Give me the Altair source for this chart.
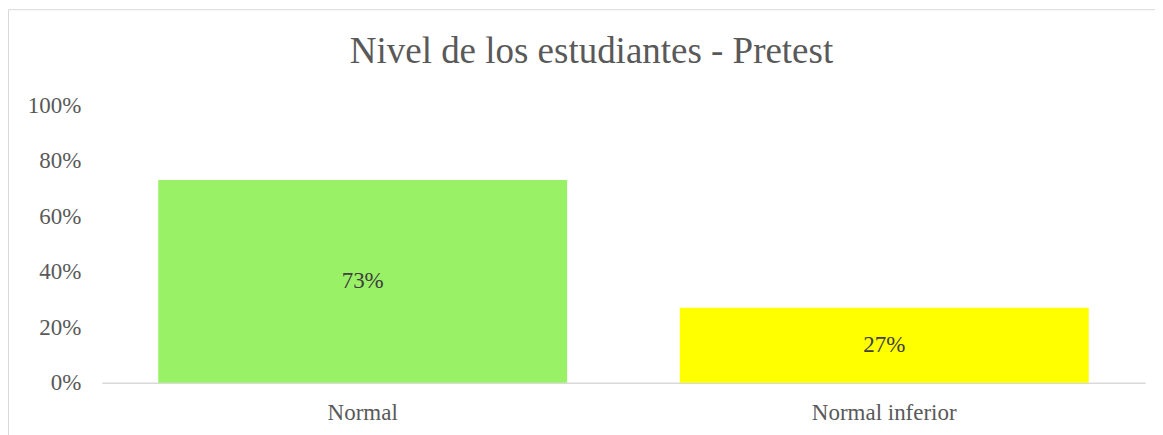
import altair as alt
import pandas as pd

title_text = "Nivel de los estudiantes - Pretest"
categories = ["Normal", "Normal inferior"]
values = [0.73, 0.27]
colors = ["#99F266", "#FFFF00"]
labels = ["73%", "27%"]

df = pd.DataFrame({"cat": categories, "val": values, "color": colors, "label": labels})

FONT = "Liberation Serif"

base = alt.Chart(df)

bars = base.mark_bar(width=alt.RelativeBandSize(0.784)).encode(
    x=alt.X("cat:N", sort=categories, title=None,
            scale=alt.Scale(paddingInner=0, paddingOuter=0),
            axis=alt.Axis(labelAngle=0, ticks=False, tickSize=0, domainColor="#D9D9D9",
                          domainWidth=1.5, labelFont=FONT, labelFontSize=23, labelColor="#595959",
                          labelBaseline="alphabetic", labelPadding=37, grid=False)),
    y=alt.Y("val:Q", title=None,
            scale=alt.Scale(domain=[0, 1]),
            axis=alt.Axis(values=[0, 0.2, 0.4, 0.6, 0.8, 1.0], format=".0%", ticks=False, tickSize=0,
                          domain=False, grid=False, labelFont=FONT, labelFontSize=23,
                          labelColor="#595959", labelPadding=21)),
    color=alt.Color("color:N", scale=None),
)

text = base.mark_text(font=FONT, fontSize=23, color="#404040", baseline="middle").encode(
    x=alt.X("cat:N", sort=categories),
    y=alt.Y("mid:Q"),
    text="label:N",
).transform_calculate(mid="datum.val / 2")

one = pd.DataFrame({"t": [title_text]})
left_border = alt.Chart(one).mark_rule(color="#D9D9D9", strokeWidth=1).encode(
    x=alt.value(-93.5), y=alt.value(-95.5), y2=alt.value(400))
top_border = alt.Chart(one).mark_rule(color="#D9D9D9", strokeWidth=1).encode(
    x=alt.value(-93.5), x2=alt.value(1100), y=alt.value(-95.5))
title = alt.Chart(one).mark_text(font=FONT, fontSize=37, color="#595959",
                                 align="center", baseline="alphabetic").encode(
    x=alt.value(490), y=alt.value(-42), text="t:N")

chart = alt.layer(bars, text, left_border, top_border, title).properties(
    width=1044, height=278,
    autosize=alt.AutoSizeParams(type="none"),
    padding={"left": 94, "top": 97, "right": 10, "bottom": 60},
    background="white",
).configure_view(stroke=None)

chart.save("out.html", embed_options={"renderer": "svg", "actions": False})
